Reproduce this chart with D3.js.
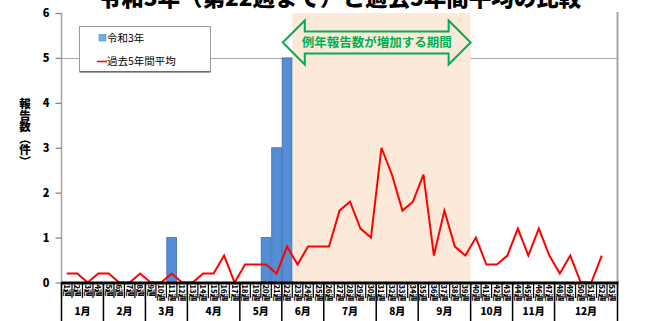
<!DOCTYPE html>
<html lang="ja">
<head>
<meta charset="utf-8">
<script src="https://cdn.jsdelivr.net/npm/d3@7"></script>
<style>
  html, body { margin: 0; padding: 0; background: #fff; }
  svg { display: block; font-family: "Noto Sans CJK JP", "Noto Sans", sans-serif; }
</style>
</head>
<body>
<svg id="chart" width="645" height="321"></svg>
<script>
// 週番号（1〜53週）
const weeks = d3.range(1, 54);

// 令和3年の報告数（第22週まで）
const reiwa3 = [0, 0, 0, 0, 0, 0, 0, 0, 0, 0, 1, 0, 0, 0, 0, 0, 0, 0, 0, 1, 3, 5];

// 過去5年間平均（第1〜52週）
const avg5 = [0.2, 0.2, 0, 0.2, 0.2, 0, 0, 0.2, 0, 0, 0.2, 0, 0, 0.2, 0.2, 0.6, 0,
  0.4, 0.4, 0.4, 0.2, 0.8, 0.4, 0.8, 0.8, 0.8, 1.6, 1.8, 1.2, 1.0, 3.0, 2.4, 1.6,
  1.8, 2.4, 0.6, 1.6, 0.8, 0.6, 1.0, 0.4, 0.4, 0.6, 1.2, 0.6, 1.2, 0.6, 0.2, 0.6,
  0, 0, 0.6];

// 月ごとの週の区切り（各月の最初の週と最後の週）
const months = ["1月", "2月", "3月", "4月", "5月", "6月", "7月", "8月", "9月", "10月", "11月", "12月"];
const monthStart = [1, 5, 9, 13, 18, 22, 26, 31, 35, 40, 44, 48];
const monthEnd = [4, 8, 12, 17, 21, 25, 30, 34, 39, 43, 47, 53];

const yTicks = [0, 1, 2, 3, 4, 5, 6];
const gridValues = [5];

// 例年報告数が増加する期間
const seasonWeeks = [23, 39];

const titleText = "令和3年（第22週まで）と過去5年間平均の比較";
const seasonText = "例年報告数が増加する期間";
const yTitle = "報告数（件）";
const seriesNames = ["令和3年", "過去5年間平均"];

const svg = d3.select("#chart");
const pLeft = 61.5, pRight = 617.5, pTop = 13, pBottom = 282.5;

const x = d3.scaleBand().domain(weeks).range([pLeft, pRight]).padding(0);
const y = d3.scaleLinear().domain([0, 6]).range([pBottom, pTop]);
const bw = x.bandwidth();

// タイトル（上端は見切れ）
svg.append("text")
  .attr("x", 340).attr("y", 6)
  .attr("text-anchor", "middle")
  .attr("font-size", 22.5).attr("font-weight", 900)
  .attr("fill", "#000")
  .text(titleText);

// 目盛線
svg.append("g").selectAll("line").data(gridValues).join("line")
  .attr("x1", pLeft).attr("x2", pRight)
  .attr("y1", d => Math.round(y(d)) + 0.5).attr("y2", d => Math.round(y(d)) + 0.5)
  .attr("stroke", "#a6a6a6").attr("stroke-width", 1.2);

// 流行期の網掛け
svg.append("rect")
  .attr("x", x(seasonWeeks[0]))
  .attr("y", pTop)
  .attr("width", x(seasonWeeks[1]) + bw - x(seasonWeeks[0]))
  .attr("height", pBottom - pTop)
  .attr("fill", "#fde9d9");

// 右側の枠線
svg.append("line")
  .attr("x1", pRight).attr("x2", pRight).attr("y1", pTop - 1).attr("y2", pBottom)
  .attr("stroke", "#a6a6a6").attr("stroke-width", 2);

// 令和3年の棒
svg.append("g").selectAll("rect").data(reiwa3.map((v, i) => ({ w: i + 1, v })).filter(d => d.v > 0))
  .join("rect")
  .attr("x", d => x(d.w) + 0.4)
  .attr("y", d => y(d.v))
  .attr("width", bw - 0.8)
  .attr("height", d => pBottom - y(d.v))
  .attr("fill", "#558ed5")
  .attr("stroke", "#3b6cb0").attr("stroke-width", 0.8);

// 過去5年間平均の折れ線
const line = d3.line()
  .x((d, i) => x(weeks[i]) + bw / 2)
  .y(d => y(d));
svg.append("path")
  .datum(avg5)
  .attr("d", line)
  .attr("fill", "none")
  .attr("stroke", "#ff0000")
  .attr("stroke-width", 2)
  .attr("stroke-linejoin", "miter");

// 縦軸
const yAxis = d3.axisLeft(y).tickValues(yTicks).tickSize(6).tickPadding(6).tickFormat(d3.format("d"));
const gy = svg.append("g").attr("transform", `translate(${pLeft},0)`).call(yAxis);
gy.select(".domain").attr("stroke", "#a6a6a6").attr("stroke-width", 1.5).attr("d", `M0,${pTop}V${pBottom}`);
gy.selectAll(".tick line").attr("stroke", "#808080").attr("stroke-width", 1.2);
gy.selectAll(".tick text")
  .attr("font-size", 11).attr("font-weight", 900).attr("fill", "#000")
  .attr("font-family", "'Noto Sans CJK JP', sans-serif");

// 縦軸タイトル（縦書き）
svg.append("text")
  .attr("x", 25).attr("y", 98)
  .attr("font-size", 11.5).attr("font-weight", 900)
  .style("writing-mode", "vertical-rl")
  .attr("fill", "#000")
  .text(yTitle);

// 横軸（週番号と月）
const gx = svg.append("g");
gx.append("line")
  .attr("x1", pLeft).attr("x2", pRight + 1).attr("y1", pBottom + 0.5).attr("y2", pBottom + 0.5)
  .attr("stroke", "#000").attr("stroke-width", 3);
gx.selectAll("line.wk").data(weeks.concat([54])).join("line")
  .attr("class", "wk")
  .attr("x1", d => d <= 53 ? x(d) : pRight).attr("x2", d => d <= 53 ? x(d) : pRight)
  .attr("y1", pBottom).attr("y2", 298)
  .attr("stroke", "#000").attr("stroke-width", 1.2);
gx.selectAll("text.wk").data(weeks).join("text")
  .attr("class", "wk")
  .attr("transform", d => `translate(${x(d) + bw / 2 - 3},${284.5}) rotate(90)`)
  .attr("font-size", 7.5).attr("font-weight", 900)
  .attr("fill", "#000")
  .text(d => d + "週");
gx.selectAll("line.mon").data(monthStart.concat([54])).join("line")
  .attr("class", "mon")
  .attr("x1", d => d <= 53 ? x(d) : pRight).attr("x2", d => d <= 53 ? x(d) : pRight)
  .attr("y1", pBottom).attr("y2", 321)
  .attr("stroke", "#000").attr("stroke-width", 1.5);
gx.selectAll("text.mon").data(months).join("text")
  .attr("class", "mon")
  .attr("x", (d, i) => (x(monthStart[i]) + x(monthEnd[i]) + bw) / 2)
  .attr("y", 315)
  .attr("text-anchor", "middle")
  .attr("font-size", 10).attr("font-weight", 900)
  .attr("fill", "#000")
  .text(d => d);

// 流行期の両矢印
const ax0 = x(seasonWeeks[0]) - 9.5, ax1 = x(seasonWeeks[1]) + bw;
const acy = 42.5, head = 22, shaft = 11;
const arrowPts = [
  [ax0, acy], [ax0 + head, acy - 22], [ax0 + head, acy - shaft], [ax1 - head, acy - shaft],
  [ax1 - head, acy - 22], [ax1, acy], [ax1 - head, acy + 22], [ax1 - head, acy + shaft],
  [ax0 + head, acy + shaft], [ax0 + head, acy + 22]
];
svg.append("polygon")
  .attr("points", arrowPts.map(p => p.join(",")).join(" "))
  .attr("fill", "none")
  .attr("stroke", "#00b050").attr("stroke-width", 2)
  .attr("stroke-linejoin", "miter");
svg.append("text")
  .attr("x", (ax0 + ax1) / 2).attr("y", acy + 4.5)
  .attr("text-anchor", "middle")
  .attr("font-size", 12.5).attr("font-weight", 700)
  .attr("fill", "#00b050")
  .text(seasonText);

// 凡例
const lg = svg.append("g");
lg.append("rect")
  .attr("x", 79.5).attr("y", 26.5).attr("width", 131).attr("height", 45)
  .attr("fill", "#fff").attr("stroke", "#9a9a9a").attr("stroke-width", 1);
lg.append("line")
  .attr("x1", 79.5).attr("x2", 210.5).attr("y1", 72).attr("y2", 72)
  .attr("stroke", "#404040").attr("stroke-width", 1.2);
lg.append("rect")
  .attr("x", 99).attr("y", 34.5).attr("width", 7).attr("height", 6.5)
  .attr("fill", "#6fb2e0").attr("stroke", "#558ed5").attr("stroke-width", 0.6);
lg.append("text")
  .attr("x", 107).attr("y", 41.5)
  .attr("font-size", 10.5).attr("fill", "#000")
  .text(seriesNames[0]);
lg.append("line")
  .attr("x1", 97).attr("x2", 107).attr("y1", 61.5).attr("y2", 61.5)
  .attr("stroke", "#ff0000").attr("stroke-width", 1.5);
lg.append("text")
  .attr("x", 107).attr("y", 65)
  .attr("font-size", 10.5).attr("fill", "#000")
  .text(seriesNames[1]);
</script>
</body>
</html>
